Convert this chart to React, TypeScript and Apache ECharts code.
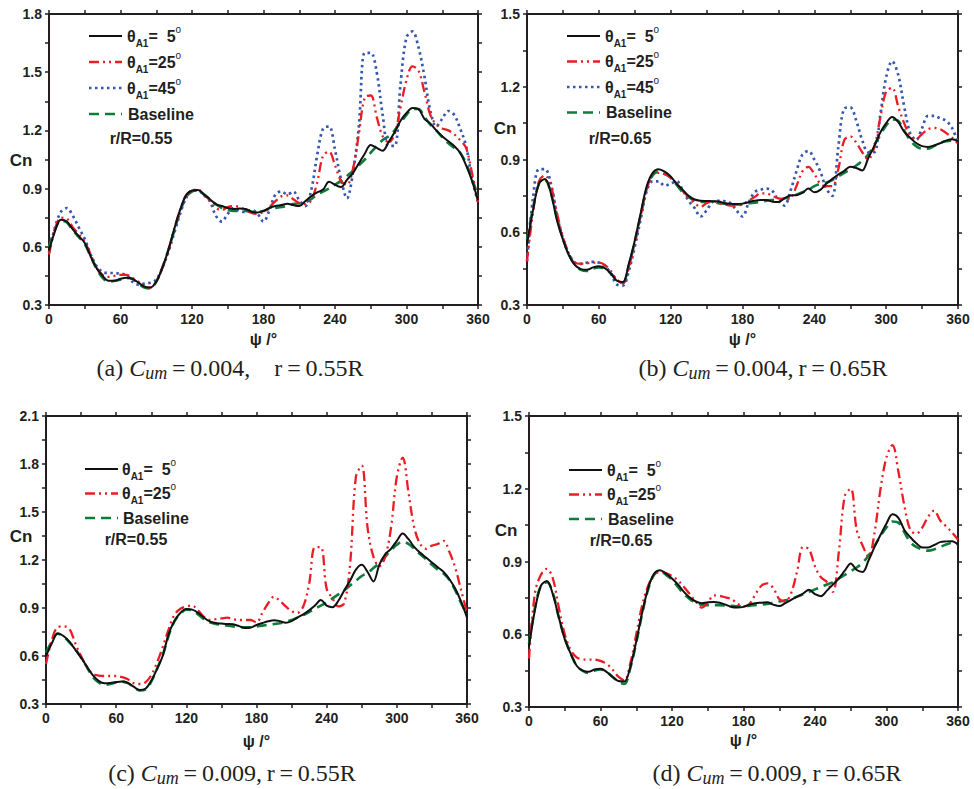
import React, { useEffect, useRef } from 'react';
import * as echarts from 'echarts';

// azimuth grid (deg)
const PSI = [
  0, 5, 10, 15, 20, 25, 30, 35, 40, 45,
  50, 55, 60, 65, 70, 75, 80, 85, 90, 95,
  100, 105, 110, 115, 120, 125, 130, 135, 140, 145,
  150, 155, 160, 165, 170, 175, 180, 185, 190, 195,
  200, 205, 210, 215, 220, 225, 230, 235, 240, 245,
  250, 255, 260, 265, 270, 275, 280, 285, 290, 295,
  300, 305, 310, 315, 320, 325, 330, 335, 340, 345,
  350, 355, 360,
];

// (a) Cum=0.004, r=0.55R
const A_T5 = [
  0.58, 0.68, 0.74, 0.73, 0.69, 0.655, 0.62, 0.55, 0.49, 0.45,
  0.425, 0.425, 0.435, 0.44, 0.435, 0.415, 0.395, 0.39, 0.42, 0.49,
  0.58, 0.69, 0.79, 0.865, 0.89, 0.893, 0.87, 0.845, 0.82, 0.81,
  0.8, 0.795, 0.797, 0.795, 0.78, 0.777, 0.785, 0.8, 0.81, 0.815,
  0.822, 0.815, 0.81, 0.835, 0.86, 0.88, 0.895, 0.935, 0.92, 0.908,
  0.945, 0.98, 1.03, 1.08, 1.125, 1.11, 1.095, 1.14, 1.19, 1.25,
  1.29, 1.315, 1.31, 1.26, 1.235, 1.2, 1.17, 1.145, 1.12, 1.085,
  1.02, 0.94, 0.84,
];
const A_T25 = [
  0.56, 0.69, 0.75, 0.745, 0.7, 0.665, 0.625, 0.56, 0.49, 0.455,
  0.445, 0.45, 0.455, 0.455, 0.44, 0.42, 0.395, 0.39, 0.42, 0.49,
  0.58, 0.69, 0.79, 0.865, 0.89, 0.895, 0.87, 0.84, 0.8, 0.79,
  0.805, 0.81, 0.805, 0.79, 0.775, 0.77, 0.78, 0.805, 0.835, 0.86,
  0.865, 0.845, 0.825, 0.82, 0.84, 0.93, 1.07, 1.09, 1.02, 0.94,
  0.92, 1.0, 1.18, 1.37, 1.38, 1.27, 1.17, 1.14, 1.18, 1.32,
  1.46, 1.53, 1.51, 1.4, 1.28, 1.23, 1.21, 1.2, 1.18, 1.15,
  1.11, 0.98, 0.83,
];
const A_T45 = [
  0.57, 0.7, 0.78, 0.8, 0.76, 0.7, 0.64, 0.56, 0.5, 0.47,
  0.465, 0.465, 0.46, 0.455, 0.42, 0.405, 0.41, 0.415, 0.43, 0.49,
  0.57, 0.67, 0.77, 0.85, 0.89, 0.89, 0.865, 0.835, 0.76, 0.73,
  0.77, 0.8, 0.785, 0.78, 0.79, 0.77, 0.73, 0.79, 0.87, 0.885,
  0.87, 0.885, 0.84, 0.81, 0.89, 1.07, 1.21, 1.22, 1.1, 0.95,
  0.85, 0.98, 1.22, 1.6, 1.6, 1.5, 1.28, 1.12, 1.12, 1.44,
  1.68, 1.71, 1.63, 1.48, 1.3, 1.22, 1.26, 1.3, 1.28, 1.21,
  1.12, 0.95, 0.83,
];
const A_BASE = [
  0.6, 0.69, 0.735, 0.725, 0.685, 0.65, 0.615, 0.55, 0.485, 0.44,
  0.42, 0.425, 0.43, 0.44, 0.435, 0.41, 0.39, 0.385, 0.42, 0.49,
  0.58, 0.68, 0.78, 0.855, 0.885, 0.89, 0.87, 0.845, 0.82, 0.8,
  0.79, 0.785, 0.785, 0.785, 0.78, 0.78, 0.785, 0.795, 0.8, 0.805,
  0.81, 0.82, 0.825, 0.83, 0.845, 0.87, 0.885, 0.9, 0.92, 0.94,
  0.965, 0.99, 1.02, 1.05, 1.085, 1.12, 1.15, 1.17, 1.2, 1.24,
  1.28, 1.31, 1.31, 1.27, 1.23, 1.2, 1.165, 1.135, 1.11, 1.085,
  1.03, 0.95, 0.86,
];

// (b) Cum=0.004, r=0.65R
const B_T5 = [
  0.55, 0.69, 0.8, 0.82, 0.76, 0.65, 0.57, 0.505, 0.465, 0.448,
  0.445, 0.455, 0.46, 0.452, 0.43, 0.4, 0.395, 0.47, 0.565, 0.68,
  0.79, 0.845, 0.86, 0.85, 0.83, 0.8, 0.775, 0.75, 0.735, 0.73,
  0.729, 0.728, 0.727, 0.72, 0.717, 0.716, 0.718, 0.724, 0.73, 0.733,
  0.733, 0.726, 0.725, 0.74, 0.752, 0.753, 0.762, 0.78, 0.765, 0.775,
  0.8, 0.82, 0.838, 0.853, 0.87, 0.865, 0.855, 0.905, 0.955, 1.01,
  1.05, 1.075, 1.055, 1.015, 0.99, 0.968, 0.955, 0.952, 0.958, 0.967,
  0.978, 0.984, 0.975,
];
const B_T25 = [
  0.48, 0.68, 0.81, 0.835, 0.79, 0.68, 0.58, 0.51, 0.475, 0.47,
  0.472, 0.475, 0.475, 0.465, 0.44, 0.405, 0.39, 0.455, 0.555, 0.67,
  0.78, 0.835, 0.845, 0.84, 0.825, 0.8, 0.77, 0.745, 0.72, 0.705,
  0.72, 0.73, 0.72, 0.715, 0.71, 0.71, 0.715, 0.73, 0.745, 0.76,
  0.76, 0.75, 0.74, 0.735, 0.74, 0.79, 0.85, 0.87, 0.84, 0.8,
  0.79, 0.79, 0.86, 0.98, 0.995, 0.97, 0.93, 0.9, 0.95, 1.07,
  1.18, 1.195, 1.12, 1.05, 1.0, 0.985, 1.005, 1.025, 1.03, 1.025,
  1.01, 0.99, 0.965,
];
const B_T45 = [
  0.48, 0.74, 0.86, 0.86, 0.8, 0.67, 0.575, 0.51, 0.475, 0.47,
  0.475, 0.478, 0.475, 0.462, 0.43, 0.385, 0.38, 0.44, 0.54, 0.655,
  0.77, 0.81, 0.81, 0.792, 0.8, 0.81, 0.775, 0.73, 0.7, 0.665,
  0.69, 0.725, 0.73, 0.728, 0.72, 0.69, 0.665, 0.72, 0.765, 0.775,
  0.78, 0.77, 0.73, 0.71, 0.77, 0.85, 0.92, 0.935, 0.9, 0.85,
  0.78, 0.75, 0.95, 1.11, 1.115, 1.06, 0.98, 0.93, 0.93, 1.08,
  1.24, 1.305, 1.25, 1.12, 1.01, 0.98, 1.03, 1.08, 1.08, 1.07,
  1.06, 1.03, 0.97,
];
const B_BASE = [
  0.57, 0.7, 0.8, 0.815, 0.76, 0.66, 0.575, 0.51, 0.465, 0.445,
  0.44, 0.45, 0.455, 0.45, 0.43, 0.405, 0.39, 0.46, 0.56, 0.67,
  0.78, 0.835, 0.85, 0.84, 0.825, 0.795, 0.765, 0.745, 0.73, 0.725,
  0.725, 0.725, 0.72, 0.718, 0.715, 0.715, 0.715, 0.72, 0.722, 0.725,
  0.73, 0.733, 0.735, 0.74, 0.745, 0.755, 0.765, 0.775, 0.79, 0.8,
  0.805, 0.815, 0.83, 0.845, 0.86, 0.875, 0.895, 0.92, 0.96, 1.0,
  1.04, 1.065, 1.06, 1.02, 0.98, 0.955, 0.945, 0.945, 0.955, 0.968,
  0.975, 0.978, 0.97,
];

// (c) Cum=0.009, r=0.55R
const C_T5 = [
  0.6, 0.68, 0.74, 0.725, 0.69, 0.64, 0.59, 0.533, 0.48, 0.445,
  0.43, 0.432, 0.437, 0.44, 0.432, 0.408, 0.388, 0.395, 0.445, 0.52,
  0.605, 0.74, 0.82, 0.87, 0.893, 0.89, 0.87, 0.84, 0.816, 0.806,
  0.803, 0.8, 0.798, 0.787, 0.775, 0.778, 0.794, 0.806, 0.817, 0.824,
  0.818, 0.808, 0.818, 0.84, 0.86, 0.885, 0.915, 0.95, 0.915, 0.905,
  0.945, 1.01, 1.07, 1.14, 1.17, 1.125, 1.066, 1.17, 1.235, 1.27,
  1.32, 1.365, 1.33, 1.28, 1.245, 1.215, 1.185, 1.155, 1.125, 1.08,
  1.02, 0.94, 0.84,
];
const C_T25 = [
  0.55, 0.7, 0.78, 0.785, 0.77, 0.68, 0.6, 0.533, 0.49, 0.478,
  0.475, 0.475, 0.475, 0.468, 0.455, 0.43, 0.425, 0.435, 0.48, 0.56,
  0.66, 0.77, 0.86, 0.895, 0.91, 0.915, 0.885, 0.845, 0.826, 0.83,
  0.835, 0.84, 0.83, 0.825, 0.825, 0.825, 0.81, 0.87, 0.93, 0.97,
  0.945, 0.91, 0.88, 0.87, 0.91, 1.05, 1.28, 1.28, 1.02, 0.96,
  0.91, 0.93, 1.17, 1.72, 1.79, 1.4, 1.22, 1.16, 1.22, 1.4,
  1.72, 1.84, 1.62, 1.4, 1.3, 1.27, 1.29, 1.3, 1.32, 1.25,
  1.15, 1.01, 0.87,
];
const C_BASE = [
  0.62, 0.69, 0.74, 0.72, 0.685, 0.645, 0.59, 0.53, 0.47, 0.435,
  0.42, 0.425, 0.435, 0.44, 0.43, 0.405, 0.385, 0.39, 0.44, 0.52,
  0.61, 0.73, 0.82, 0.865, 0.89, 0.885, 0.86, 0.83, 0.81, 0.8,
  0.795, 0.79, 0.785, 0.78, 0.78, 0.78, 0.785, 0.79, 0.795, 0.8,
  0.805, 0.815, 0.825, 0.84, 0.855, 0.875, 0.895, 0.915, 0.935, 0.96,
  0.985, 1.01, 1.04, 1.07, 1.1, 1.12, 1.15, 1.18, 1.22, 1.26,
  1.295, 1.315, 1.3, 1.27, 1.235, 1.205, 1.17, 1.14, 1.115, 1.075,
  1.01, 0.93, 0.86,
];

// (d) Cum=0.009, r=0.65R
const D_T5 = [
  0.55, 0.7, 0.8, 0.82, 0.765, 0.67, 0.58, 0.52, 0.47, 0.45,
  0.445, 0.455, 0.458, 0.445, 0.425, 0.407, 0.405, 0.465, 0.57, 0.69,
  0.79, 0.85, 0.864, 0.85, 0.83, 0.805, 0.775, 0.751, 0.735, 0.728,
  0.732, 0.733, 0.73, 0.722, 0.712, 0.71, 0.713, 0.722, 0.728, 0.73,
  0.732, 0.722, 0.716, 0.728, 0.742, 0.755, 0.768, 0.784, 0.765, 0.757,
  0.78, 0.805, 0.83, 0.862, 0.892, 0.865, 0.857, 0.905, 0.96, 1.01,
  1.057, 1.095, 1.08, 1.03, 1.0, 0.975, 0.958, 0.958, 0.968, 0.98,
  0.983, 0.984, 0.97,
];
const D_T25 = [
  0.5, 0.77, 0.845, 0.87, 0.83, 0.71, 0.6, 0.535, 0.505, 0.497,
  0.495, 0.495, 0.49, 0.478, 0.455, 0.425, 0.41, 0.48, 0.6, 0.72,
  0.8, 0.845, 0.857, 0.852, 0.84, 0.822, 0.795, 0.765, 0.735, 0.71,
  0.73, 0.76, 0.758, 0.752, 0.745, 0.725, 0.715, 0.725, 0.765, 0.8,
  0.81, 0.79, 0.745, 0.735, 0.77, 0.86, 0.96, 0.95, 0.88, 0.835,
  0.815, 0.775, 0.94, 1.17, 1.2, 1.03, 0.965, 0.92, 1.02, 1.2,
  1.33, 1.38, 1.27, 1.13, 1.03, 1.015, 1.04, 1.085, 1.11, 1.07,
  1.045, 1.02, 0.99,
];
const D_BASE = [
  0.56, 0.71, 0.8, 0.815, 0.77, 0.67, 0.585, 0.52, 0.47, 0.45,
  0.44, 0.45, 0.455, 0.445, 0.425, 0.405, 0.395, 0.46, 0.565, 0.685,
  0.785, 0.845, 0.86, 0.845, 0.825, 0.795, 0.765, 0.745, 0.73, 0.722,
  0.72, 0.72, 0.72, 0.718, 0.717, 0.715, 0.715, 0.718, 0.72, 0.722,
  0.725, 0.73, 0.735, 0.74, 0.745, 0.755, 0.765, 0.775, 0.785, 0.795,
  0.805, 0.815, 0.83, 0.845, 0.86, 0.875, 0.895, 0.925, 0.965, 1.005,
  1.04, 1.065, 1.06, 1.02, 0.98, 0.96, 0.95, 0.945, 0.95, 0.96,
  0.97, 0.977, 0.97,
];

const Y_MAX = [1.8, 1.5, 2.1, 1.5];
const TS = '\u2009';
const CAPTIONS = [
  ['(a) ', `${TS}=${TS}0.004,    r${TS}=${TS}0.55R`],
  ['(b) ', `${TS}=${TS}0.004,${TS}r${TS}=${TS}0.65R`],
  ['(c) ', `${TS}=${TS}0.009,${TS}r${TS}=${TS}0.55R`],
  ['(d) ', `${TS}=${TS}0.009,${TS}r${TS}=${TS}0.65R`],
];
const RADIUS_LABELS = ['r/R=0.55', 'r/R=0.65', 'r/R=0.55', 'r/R=0.65'];
const LEGEND_VALUES: Record<string, string> = { t5: '=  5', t25: '=25', t45: '=45' };

const SANS = '"Liberation Sans", Arial, sans-serif';
const SERIF = '"Liberation Serif", "Times New Roman", serif';
const INK = '#231f20';

const STYLES: Record<string, any> = {
  t5: { color: '#111111', type: 'solid', width: 2 },
  t25: { color: '#ec1c24', type: [10, 4, 2, 4, 2, 4], width: 2.3 },
  t45: { color: '#3557b0', type: [2.5, 3.5], width: 2.7 },
  base: { color: '#0e7c3a', type: [10, 6], width: 2.6 },
};

const PANELS = [
  {
    grid: { left: 49, top: 14, width: 429, height: 291 }, nameGap: 26,
    series: [['base', A_BASE], ['t45', A_T45], ['t25', A_T25], ['t5', A_T5]],
    legend: ['t5', 't25', 't45', 'base'], lx: 89, ly: 36, tx: 127, dy: 26,
    rr: [141, 138], cn: [21, 160], cap: [230, 368],
  },
  {
    grid: { left: 527, top: 14, width: 431, height: 291 }, nameGap: 26,
    series: [['base', B_BASE], ['t45', B_T45], ['t25', B_T25], ['t5', B_T5]],
    legend: ['t5', 't25', 't45', 'base'], lx: 567, ly: 36, tx: 605, dy: 25.5,
    rr: [620, 138], cn: [505, 128], cap: [763, 368],
  },
  {
    grid: { left: 46, top: 416, width: 421, height: 288 }, nameGap: 29,
    series: [['base', C_BASE], ['t25', C_T25], ['t5', C_T5]],
    legend: ['t5', 't25', 'base'], lx: 85, ly: 469, tx: 122, dy: 24.5,
    rr: [136, 539], cn: [21, 536], cap: [232, 773],
  },
  {
    grid: { left: 529, top: 416, width: 429, height: 291 }, nameGap: 25,
    series: [['base', D_BASE], ['t25', D_T25], ['t5', D_T5]],
    legend: ['t5', 't25', 'base'], lx: 569, ly: 470, tx: 607, dy: 24.5,
    rr: [621, 540], cn: [506, 530], cap: [777, 773],
  },
];

function axisCommon(show: boolean) {
  return {
    axisLine: { show: true, onZero: false, lineStyle: { color: INK, width: 2 } },
    axisTick: { show: true, inside: false, length: 4, lineStyle: { color: INK, width: 1.5 } },
    minorTick: { show: true, splitNumber: 2, length: 4, lineStyle: { color: INK, width: 1.5 } },
    splitLine: { show: false },
    minorSplitLine: { show: false },
    axisLabel: {
      show,
      fontSize: 14,
      fontWeight: 'bold',
      fontFamily: SANS,
      color: INK,
      margin: 7,
    },
  };
}

function buildOption() {
  const grid: any[] = [];
  const xAxis: any[] = [];
  const yAxis: any[] = [];
  const series: any[] = [];
  const graphic: any[] = [];

  PANELS.forEach((p, i) => {
    grid.push({ ...p.grid, containLabel: false });
    xAxis.push({
      type: 'value', gridIndex: i, min: 0, max: 360, interval: 60, position: 'bottom',
      ...axisCommon(true),
      name: 'ψ /°', nameLocation: 'middle', nameGap: p.nameGap,
      nameTextStyle: { fontSize: 16, fontWeight: 'bold', fontFamily: SANS, color: INK },
    });
    xAxis.push({
      type: 'value', gridIndex: i, min: 0, max: 360, interval: 60, position: 'top',
      ...axisCommon(false),
    });
    const yl = axisCommon(true);
    yAxis.push({
      type: 'value', gridIndex: i, min: 0.3, max: Y_MAX[i], interval: 0.3, position: 'left',
      ...yl,
      axisLabel: { ...yl.axisLabel, formatter: (v: number) => v.toFixed(1) },
    });
    yAxis.push({
      type: 'value', gridIndex: i, min: 0.3, max: Y_MAX[i], interval: 0.3, position: 'right',
      ...axisCommon(false),
    });
    p.series.forEach(([key, vals]: any, k: number) => {
      const st = STYLES[key];
      series.push({
        type: 'line',
        name: key + '_' + i,
        xAxisIndex: 2 * i,
        yAxisIndex: 2 * i,
        data: PSI.map((x, j) => [x, vals[j]]),
        smooth: 0.35,
        showSymbol: false,
        symbol: 'none',
        silent: true,
        z: 2 + k,
        lineStyle: { color: st.color, type: st.type, width: st.width, cap: 'butt' },
      });
    });

    // legend
    p.legend.forEach((key: string, r: number) => {
      const st = STYLES[key];
      const y = p.ly + r * p.dy;
      graphic.push({
        type: 'line',
        shape: { x1: p.lx, y1: y, x2: p.lx + 33, y2: y },
        style: {
          stroke: st.color,
          lineWidth: st.width,
          lineDash: st.type === 'solid' ? null : st.type,
        },
      });
      const text =
        key === 'base'
          ? '{b|Baseline}'
          : `{t|θ}{s|A1}{t|${LEGEND_VALUES[key]}}{p|o}`;
      graphic.push({
        type: 'text',
        x: key === 'base' ? p.tx + 1 : p.tx,
        y,
        style: {
          text,
          align: 'left',
          verticalAlign: 'middle',
          rich: {
            t: { fontSize: 16, fontWeight: 'bold', fontFamily: SANS, fill: INK, lineHeight: 24 },
            b: { fontSize: 16, fontWeight: 'bold', fontFamily: SANS, fill: INK, lineHeight: 24 },
            s: { fontSize: 10, fontWeight: 'bold', fontFamily: SANS, fill: INK, verticalAlign: 'bottom' },
            p: { fontSize: 10, fontFamily: SANS, fill: INK, verticalAlign: 'top' },
          },
        },
      });
    });
    graphic.push({
      type: 'text', x: p.rr[0], y: p.rr[1],
      style: {
        text: RADIUS_LABELS[i], align: 'center', verticalAlign: 'middle',
        font: `bold 16px ${SANS}`, fill: INK,
      },
    });
    graphic.push({
      type: 'text', x: p.cn[0], y: p.cn[1],
      style: {
        text: 'Cn', align: 'center', verticalAlign: 'middle',
        font: `bold 17px ${SANS}`, fill: INK,
      },
    });
    graphic.push({
      type: 'text', x: p.cap[0], y: p.cap[1],
      style: {
        text: `{n|${CAPTIONS[i][0]}}{i|C}{s|um}{n|${CAPTIONS[i][1]}}`,
        align: 'center', verticalAlign: 'middle',
        rich: {
          n: { fontSize: 24, fontFamily: SERIF, fill: INK, lineHeight: 28 },
          i: { fontSize: 24, fontStyle: 'italic', fontFamily: SERIF, fill: INK, lineHeight: 28 },
          s: { fontSize: 18, fontStyle: 'italic', fontFamily: SERIF, fill: INK, verticalAlign: 'bottom' },
        },
      },
    });
  });

  return {
    animation: false,
    backgroundColor: '#ffffff',
    grid,
    xAxis,
    yAxis,
    series,
    graphic,
  };
}

export default function App() {
  const ref = useRef<HTMLDivElement>(null);
  useEffect(() => {
    if (!ref.current) return;
    const chart = echarts.init(ref.current, null, { renderer: 'svg' });
    chart.setOption(buildOption() as any);
    return () => chart.dispose();
  }, []);
  return (
    <div
      ref={ref}
      style={{ position: 'absolute', left: 0, top: 0, width: 974, height: 789, background: '#fff' }}
    />
  );
}
